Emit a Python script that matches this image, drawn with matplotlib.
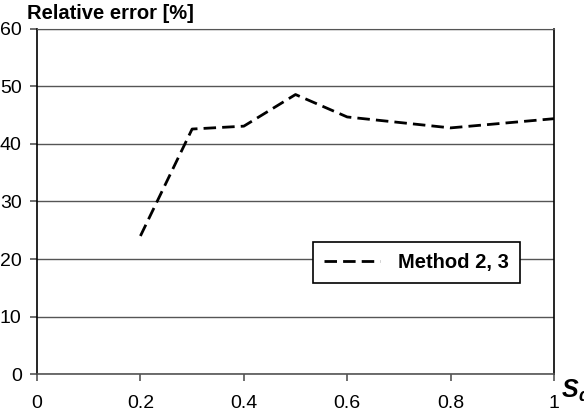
import numpy as np
import matplotlib.pyplot as plt

plt.rcParams['font.family'] = ['Liberation Sans', 'DejaVu Sans']

sd = [0.2, 0.3, 0.4, 0.5, 0.6, 0.8, 1.0]
rel_err = [24.0, 42.6, 43.1, 48.6, 44.7, 42.8, 44.4]
series_label = 'Method 2, 3'

xticks = [0, 0.2, 0.4, 0.6, 0.8, 1]
xticklabels = ['0', '0.2', '0.4', '0.6', '0.8', '1']
yticks = np.arange(0, 61, 10)

fig = plt.figure(figsize=(5.84, 4.2), dpi=100)
ax = fig.add_axes([0.0634, 0.1095, 0.8852, 0.8215])

ax.plot(sd, rel_err, color='black', lw=2.0, ls=(0, (4.5, 2.2)), label=series_label)

ax.set_xlim(0, 1)
ax.set_ylim(0, 60)
ax.set_xticks(xticks)
ax.set_xticklabels(xticklabels)
ax.set_yticks(yticks)
ax.yaxis.grid(True, color='#555555', lw=1.0)
ax.set_axisbelow(True)

ax.tick_params(axis='both', labelsize=14, direction='out', length=5,
               color='#555555', width=1.2)
ax.tick_params(axis='y', pad=6)
ax.tick_params(axis='x', pad=10)
for s in ['left', 'bottom', 'right']:
    ax.spines[s].set_color('black')
    ax.spines[s].set_linewidth(1.2)
ax.spines['top'].set_color('#555555')
ax.spines['bottom'].set_color('#555555')

fig.text(0.046, 0.969, 'Relative error [%]', fontsize=14.5, fontweight='bold',
         ha='left', va='center')
# axis name sits at the right edge, partly cut off as in the original
fig.text(0.962, 0.071, 'S', fontsize=18, fontweight='bold', fontstyle='italic',
         ha='left', va='center')
fig.text(0.99, 0.055, 'd', fontsize=13, fontweight='bold', fontstyle='italic',
         ha='left', va='center')

leg = ax.legend(loc='upper left', bbox_to_anchor=(0.534, 0.383),
                prop={'weight': 'bold', 'size': 14.5}, frameon=True, fancybox=False,
                handlelength=2.75, borderpad=0.55, handletextpad=0.9,
                borderaxespad=0)
leg.get_frame().set_edgecolor('black')
leg.get_frame().set_linewidth(1.2)
leg.get_frame().set_alpha(1)

fig.savefig('out.png', dpi=100)
